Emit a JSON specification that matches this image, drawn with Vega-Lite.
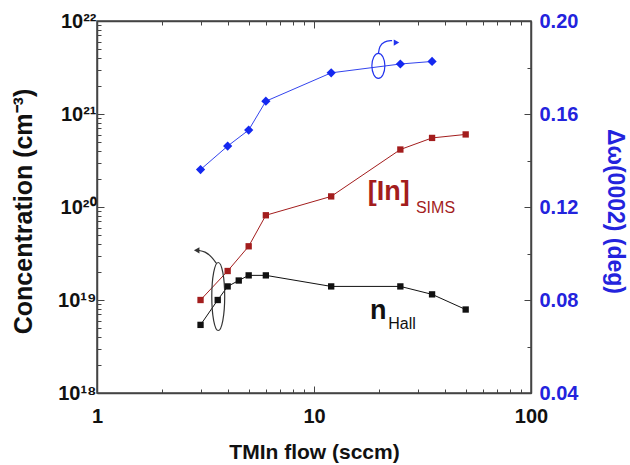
{
  "$schema": "https://vega.github.io/schema/vega-lite/v6.json",
  "width": 434,
  "height": 372,
  "autosize": "none",
  "padding": {"left": 97, "top": 21, "right": 99, "bottom": 72},
  "background": "white",
  "config": {
    "view": {"stroke": "#444", "strokeWidth": 1.5},
    "font": "Liberation Sans",
    "axis": {"grid": false, "domainColor": "#444", "domainWidth": 1.5, "tickColor": "#444", "labelFont": "Liberation Sans", "labelFontWeight": "bold", "labelFontSize": 20, "titleFont": "Liberation Sans", "titleFontWeight": "bold", "labelOverlap": false, "labelBound": false, "labelFlush": false}
  },
  "datasets": {
    "conc": [
      {"x": 3, "y": 5.4e18, "s": "nHall"},
      {"x": 3.6, "y": 1.0e19, "s": "nHall"},
      {"x": 4, "y": 1.4e19, "s": "nHall"},
      {"x": 4.5, "y": 1.62e19, "s": "nHall"},
      {"x": 5, "y": 1.84e19, "s": "nHall"},
      {"x": 6, "y": 1.84e19, "s": "nHall"},
      {"x": 12, "y": 1.4e19, "s": "nHall"},
      {"x": 25, "y": 1.4e19, "s": "nHall"},
      {"x": 35, "y": 1.15e19, "s": "nHall"},
      {"x": 50, "y": 7.9e18, "s": "nHall"},
      {"x": 3, "y": 1.0e19, "s": "SIMS"},
      {"x": 4, "y": 2.05e19, "s": "SIMS"},
      {"x": 5, "y": 3.78e19, "s": "SIMS"},
      {"x": 6, "y": 8.15e19, "s": "SIMS"},
      {"x": 12, "y": 1.3e20, "s": "SIMS"},
      {"x": 25, "y": 4.15e20, "s": "SIMS"},
      {"x": 35, "y": 5.53e20, "s": "SIMS"},
      {"x": 50, "y": 6.03e20, "s": "SIMS"}
    ],
    "fwhm": [
      {"x": 3, "w": 0.1361},
      {"x": 4, "w": 0.1462},
      {"x": 5, "w": 0.1531},
      {"x": 6, "w": 0.1655},
      {"x": 12, "w": 0.1777},
      {"x": 25, "w": 0.1815},
      {"x": 35, "w": 0.1826}
    ],
    "leftArrow": [
      {"o": 1, "x": 3.56, "y": 2.46e19},
      {"o": 2, "x": 3.38, "y": 2.9e19},
      {"o": 3, "x": 3.15, "y": 3.33e19},
      {"o": 4, "x": 2.92, "y": 3.42e19}
    ],
    "rightArrow": [
      {"o": 1, "x": 19.8, "w": 0.1858},
      {"o": 2, "x": 20.0, "w": 0.1892},
      {"o": 3, "x": 21.0, "w": 0.1912},
      {"o": 4, "x": 22.9, "w": 0.1916}
    ],
    "bigLabels": [
      {"x": 17.7, "y": 1.18e20, "t": "[In]", "c": "SIMS"},
      {"x": 18.1, "y": 6.3e18, "t": "n", "c": "nHall"}
    ],
    "subLabels": [
      {"x": 29.5, "y": 8.6e19, "t": "SIMS", "c": "SIMS"},
      {"x": 22, "y": 4.9e18, "t": "Hall", "c": "nHall"}
    ]
  },
  "layer": [
    {
      "layer": [
        {
          "data": {"name": "conc"},
          "mark": {"type": "line", "strokeWidth": 1, "point": {"shape": "square", "filled": true, "size": 40, "opacity": 1}},
          "encoding": {
            "x": {"field": "x", "type": "quantitative", "scale": {"type": "log", "domain": [1, 100]},
              "axis": {"orient": "bottom", "title": "TMIn flow (sccm)", "titleFontSize": 21, "titlePadding": 12,
                "values": [1,2,3,4,5,6,7,8,9,10,20,30,40,50,60,70,80,90,100],
                "labelExpr": "indexof([1,10,100], datum.value) >= 0 ? format(datum.value, 'd') : ''",
                "tickSize": {"condition": {"test": "indexof([1,10,100], datum.value) >= 0", "value": -7}, "value": -4},
                "labelPadding": 20, "labelColor": "#111", "titleColor": "#111"}},
            "y": {"field": "y", "type": "quantitative", "scale": {"type": "log", "domain": [1e18, 1e22]},
              "axis": {"orient": "left", "title": "Concentration (cm⁻³)", "titleFontSize": 25, "titleColor": "#111", "titleX": -74, "titleY": 190, "titleBaseline": "middle", "titleAngle": -90, "titleAlign": "center",
                "values": [1e18,2e18,3e18,4e18,5e18,6e18,7e18,8e18,9e18,1e19,2e19,3e19,4e19,5e19,6e19,7e19,8e19,9e19,1e20,2e20,3e20,4e20,5e20,6e20,7e20,8e20,9e20,1e21,2e21,3e21,4e21,5e21,6e21,7e21,8e21,9e21,1e22],
                "labelExpr": "datum.value == 1e18 ? '10¹⁸' : datum.value == 1e19 ? '10¹⁹' : datum.value == 1e20 ? '10²⁰' : datum.value == 1e21 ? '10²¹' : datum.value == 1e22 ? '10²²' : ''",
                "tickSize": {"condition": {"test": "indexof([1e18,1e19,1e20,1e21,1e22], datum.value) >= 0", "value": -7}, "value": -4},
                "labelPadding": 8, "labelColor": "#111"}},
            "color": {"field": "s", "type": "nominal", "scale": {"domain": ["nHall", "SIMS"], "range": ["#111111", "#a31d1d"]}, "legend": null}
          }
        },
        {
          "data": {"name": "leftArrow"},
          "mark": {"type": "line", "interpolate": "basis", "color": "#333", "strokeWidth": 1.2},
          "encoding": {
            "x": {"field": "x", "type": "quantitative"},
            "y": {"field": "y", "type": "quantitative"},
            "order": {"field": "o", "type": "quantitative"}
          }
        },
        {
          "data": {"values": [{"x": 2.88, "y": 3.42e19}]},
          "mark": {"type": "point", "shape": "triangle-left", "filled": true, "color": "#333", "size": 40, "opacity": 1},
          "encoding": {
            "x": {"field": "x", "type": "quantitative"},
            "y": {"field": "y", "type": "quantitative"}
          }
        },
        {
          "data": {"values": [{"x": 3.62, "y": 1.09e19}]},
          "mark": {"type": "point", "shape": "M0,-1A0.19,1,0,1,1,0,1A0.19,1,0,1,1,0,-1Z", "filled": false, "stroke": "#333", "strokeWidth": 1.2, "size": 4624, "opacity": 1},
          "encoding": {
            "x": {"field": "x", "type": "quantitative"},
            "y": {"field": "y", "type": "quantitative"}
          }
        },
        {
          "data": {"name": "bigLabels"},
          "mark": {"type": "text", "align": "left", "baseline": "alphabetic", "font": "Liberation Sans", "fontWeight": "bold", "fontSize": 27},
          "encoding": {
            "x": {"field": "x", "type": "quantitative"},
            "y": {"field": "y", "type": "quantitative"},
            "text": {"field": "t"},
            "color": {"field": "c", "type": "nominal", "legend": null}
          }
        },
        {
          "data": {"name": "subLabels"},
          "mark": {"type": "text", "align": "left", "baseline": "alphabetic", "font": "Liberation Sans", "fontSize": 16},
          "encoding": {
            "x": {"field": "x", "type": "quantitative"},
            "y": {"field": "y", "type": "quantitative"},
            "text": {"field": "t"},
            "color": {"field": "c", "type": "nominal", "legend": null}
          }
        }
      ]
    },
    {
      "layer": [
        {
          "data": {"name": "fwhm"},
          "mark": {"type": "line", "color": "#3344ee", "strokeWidth": 1, "point": {"shape": "diamond", "filled": true, "size": 85, "color": "#1428f0", "opacity": 1}},
          "encoding": {
            "x": {"field": "x", "type": "quantitative", "scale": {"type": "log", "domain": [1, 100]},
              "axis": {"orient": "top", "title": null, "labels": false,
                "values": [1,2,3,4,5,6,7,8,9,10,20,30,40,50,60,70,80,90,100],
                "tickSize": {"condition": {"test": "indexof([1,10,100], datum.value) >= 0", "value": -7}, "value": -4}}},
            "y": {"field": "w", "type": "quantitative", "scale": {"domain": [0.04, 0.2]},
              "axis": {"orient": "right", "title": "Δω(0002) (deg)", "titleFontSize": 23, "titleColor": "#2323dd", "titleAngle": 90, "titleX": 83, "titleY": 190, "titleBaseline": "middle", "titleAlign": "center",
                "values": [0.04,0.06,0.08,0.10,0.12,0.14,0.16,0.18,0.20],
                "labelExpr": "indexof([0.04,0.08,0.12,0.16,0.2], datum.value) >= 0 ? format(datum.value, '.2f') : ''",
                "tickSize": {"condition": {"test": "indexof([0.04,0.08,0.12,0.16,0.2], datum.value) >= 0", "value": -7}, "value": -4},
                "labelPadding": 15, "labelColor": "#2323dd"}}
          }
        },
        {
          "data": {"name": "rightArrow"},
          "mark": {"type": "line", "interpolate": "basis", "color": "#2233ee", "strokeWidth": 1.2},
          "encoding": {
            "x": {"field": "x", "type": "quantitative"},
            "y": {"field": "w", "type": "quantitative"},
            "order": {"field": "o", "type": "quantitative"}
          }
        },
        {
          "data": {"values": [{"x": 24.0, "w": 0.1907}]},
          "mark": {"type": "point", "shape": "triangle-right", "filled": true, "color": "#2233ee", "size": 40, "opacity": 1},
          "encoding": {
            "x": {"field": "x", "type": "quantitative"},
            "y": {"field": "w", "type": "quantitative"}
          }
        },
        {
          "data": {"values": [{"x": 19.8, "w": 0.1807}]},
          "mark": {"type": "point", "shape": "M0,-1A0.52,1,0,1,1,0,1A0.52,1,0,1,1,0,-1Z", "filled": false, "stroke": "#2233ee", "strokeWidth": 1.2, "size": 625, "opacity": 1},
          "encoding": {
            "x": {"field": "x", "type": "quantitative"},
            "y": {"field": "w", "type": "quantitative"}
          }
        }
      ]
    }
  ],
  "resolve": {"scale": {"y": "independent"}, "axis": {"x": "independent"}}
}
